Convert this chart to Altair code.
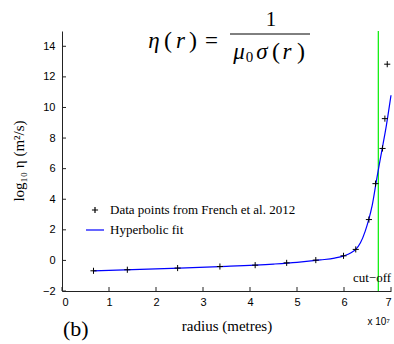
import altair as alt
import pandas as pd

# ---- data (radius in units of 1e7 m, log10 eta) ----
data_r = [0.67, 1.39, 2.46, 3.36, 4.11, 4.78, 5.40, 5.99, 6.25, 6.53, 6.67, 6.82, 6.87, 6.92]
data_eta = [-0.68, -0.61, -0.50, -0.40, -0.31, -0.16, 0.02, 0.30, 0.72, 2.67, 5.02, 7.32, 9.27, 12.83]

fit_r = [0.67, 1.5, 2.5, 3.5, 4.5, 5.0, 5.5, 5.8, 6.0, 6.15, 6.25, 6.35, 6.45, 6.52, 6.6, 6.7, 6.8, 6.9, 7.0]
fit_eta = [-0.68, -0.60, -0.50, -0.39, -0.24, -0.13, 0.03, 0.15, 0.30, 0.50, 0.72, 1.15, 1.90, 2.60, 3.60, 5.40, 7.10, 8.80, 10.80]

cutoff_r = [6.73]

x_ticks = [0, 1, 2, 3, 4, 5, 6, 7]
y_ticks = [-2, 0, 2, 4, 6, 8, 10, 12, 14]

DATA_LABEL = "Data points from French et al. 2012"
FIT_LABEL = "Hyperbolic fit"

SERIF = "Liberation Serif"
SANS = "Liberation Sans"
W, H = 329, 260
PLUS = "M-0.34,0H0.34M0,-0.34V0.34"

pts = pd.DataFrame({"r": data_r, "eta": data_eta, "series": DATA_LABEL})
fit = pd.DataFrame({"r": fit_r, "eta": fit_eta, "series": FIT_LABEL})
cut = pd.DataFrame({"r": cutoff_r})
xt = pd.DataFrame({"r": x_ticks})
yt = pd.DataFrame({"eta": y_ticks})

xscale = alt.Scale(domain=[0, 7], nice=False, zero=False)
yscale = alt.Scale(domain=[-2, 15], nice=False, zero=False)

xaxis = alt.Axis(values=x_ticks, format="d", tickSize=0, labelPadding=5,
                 labelFont=SANS, labelFontSize=11, labelColor="black",
                 title="radius (metres)", titleFont=SERIF, titleFontSize=15,
                 titleFontWeight="normal", titleColor="black",
                 titleY=39, titleBaseline="alphabetic",
                 domainColor="#222222", grid=False)
yaxis = alt.Axis(values=y_ticks, format="d", tickSize=0, labelPadding=7,
                 labelFont=SANS, labelFontSize=11, labelColor="black",
                 title="log₁₀ η  (m²/s)", titleFont=SERIF, titleFontSize=15,
                 titleFontWeight="normal", titleColor="black",
                 titleX=-39, titleY=129.5, titleAlign="center",
                 titleBaseline="alphabetic", titleAngle=270,
                 domainColor="#222222", grid=False)

X = alt.X("r:Q", scale=xscale, axis=xaxis)
Y = alt.Y("eta:Q", scale=yscale, axis=yaxis)

legend = alt.Legend(orient="none", legendX=23, legendY=169, title=None,
                    labelFont=SERIF, labelFontSize=13, labelColor="black",
                    labelLimit=400,
                    symbolSize=324, symbolStrokeWidth=1.2, labelOffset=5,
                    rowPadding=3, padding=0)
color_scale = alt.Scale(domain=[DATA_LABEL, FIT_LABEL], range=["black", "#0000ff"])
shape_scale = alt.Scale(domain=[DATA_LABEL, FIT_LABEL], range=[PLUS, "stroke"])

cut_layer = alt.Chart(cut).mark_rule(color="#00ee00", strokeWidth=1.2).encode(
    x=X, y=alt.value(0), y2=alt.value(H))

fit_layer = alt.Chart(fit).mark_line(strokeWidth=1.2, interpolate="monotone").encode(
    x=X, y=Y, color=alt.Color("series:N", scale=color_scale, legend=legend))

pt_layer = alt.Chart(pts).mark_point(filled=False, size=324, strokeWidth=1, opacity=1).encode(
    x=X, y=Y,
    color=alt.Color("series:N", scale=color_scale, legend=legend),
    shape=alt.Shape("series:N", scale=shape_scale, legend=legend))

xtick_layer = alt.Chart(xt).mark_rule(color="#222222").encode(
    x=X, y=alt.value(H), y2=alt.value(H - 4))
ytick_layer = alt.Chart(yt).mark_rule(color="#222222").encode(
    y=Y, x=alt.value(0), x2=alt.value(4))


def txt(s, x, y, size, font=SERIF, style="normal", align="center"):
    return alt.Chart(alt.Data(values=[{}])).mark_text(
        text=s, font=font, fontSize=size, fontStyle=style, align=align,
        baseline="alphabetic", color="black").encode(x=alt.value(x), y=alt.value(y))


annotations = [
    # formula eta(r) = 1 / (mu0 sigma(r))
    txt("η", 92, 17, 23, style="italic"),
    txt("(", 106, 17, 24),
    txt("r", 118.5, 17, 23, style="italic"),
    txt(")", 131, 17, 24),
    txt("=", 149.5, 17, 23),
    txt("1", 209, -5, 21),
    txt("μ", 177, 27.5, 23, style="italic"),
    txt("0", 187.5, 31, 15),
    txt("σ", 200, 27.5, 23, style="italic"),
    txt("(", 214, 27.5, 24),
    txt("r", 225, 27.5, 23, style="italic"),
    txt(")", 239, 27.5, 24),
    txt("cut−off", 310, 251, 13),
    txt("x 10⁷", 328, 294, 10, font=SANS, align="right"),
    txt("(b)", 1, 305, 22, align="left"),
]

frac_bar = alt.Chart(alt.Data(values=[{}])).mark_rule(color="black", strokeWidth=1).encode(
    x=alt.value(168), x2=alt.value(248), y=alt.value(3))

chart = alt.layer(
    cut_layer, fit_layer, pt_layer, xtick_layer, ytick_layer, frac_bar, *annotations
).resolve_scale(color="shared", shape="shared").properties(
    width=W, height=H,
    autosize=alt.AutoSizeParams(type="none"),
    padding={"left": 62, "top": 31, "right": 3, "bottom": 53},
    background="white",
).configure_view(stroke="transparent")

chart.save("out.html", embed_options={"renderer": "svg", "actions": False})
